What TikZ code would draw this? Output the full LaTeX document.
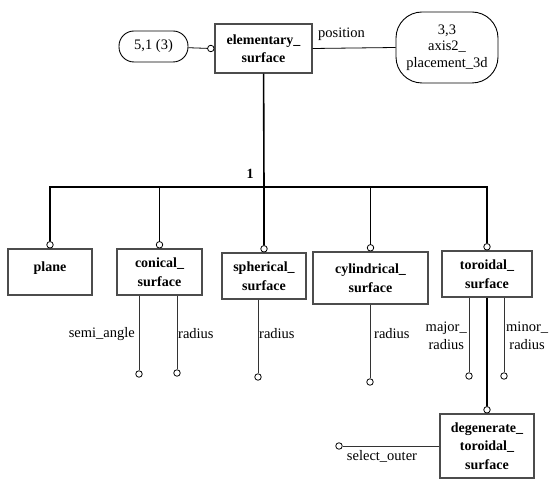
\documentclass[tikz,border=0pt]{standalone}
\usepackage{fontspec}
\setmainfont{Liberation Serif}
\usetikzlibrary{positioning}

\tikzset{
    entity/.style = {draw = black!70, line width = 1.1pt, align = center,
        font = \bfseries\fontsize{14}{18.5}\selectfont, inner sep = 2pt},
    refbox/.style = {draw, line width = 0.9pt, align = center,
        font = \fontsize{14.5}{16.5}\selectfont},
    endcirc/.style = {draw, circle, fill = white, line width = 0.8pt,
        inner sep = 0pt, minimum size = 6.5pt},
    tree/.style = {line width = 1.6pt},
    attr/.style = {line width = 0.8pt, black!80},
    lbl/.style = {font = \fontsize{14.5}{18}\selectfont, align = center, inner sep = 1pt},
}

\begin{document}
\begin{tikzpicture}[x = 1pt, y = -1pt]
    \useasboundingbox (0, 0) rectangle (555, 486);

    % supertype
    \node[entity, minimum width = 97pt, minimum height = 49pt] (elem) at (263.5, 48.5) {elementary\_\\surface};
    \node[refbox, rounded corners = 15pt, minimum width = 69pt, minimum height = 31pt] (ref51) at (153.5, 46.5) {5,1 (3)};
    \node[refbox, rounded corners = 26pt, minimum width = 102pt, minimum height = 71pt] (ref33) at (447, 47.5) {3,3\\axis2\_\\placement\_3d};
    \node[endcirc, anchor = east] (elem c) at (elem.west) {};

    \draw[attr, black] (ref51) -- (elem c);
    \draw[attr, black] (elem.east) -- (ref33.west) node[lbl, pos = 0.35, above = 6pt] (pos lbl) {position};

    % subtypes
    \node[entity, minimum width = 84pt, minimum height = 46pt, text depth = 10pt] (plane) at (50, 272) {plane};
    \node[entity, minimum width = 85pt, minimum height = 46pt] (conical) at (159.5, 272) {conical\_\\surface};
    \node[entity, minimum width = 84pt, minimum height = 46pt] (spherical) at (264, 276) {spherical\_\\surface};
    \node[entity, minimum width = 115pt, minimum height = 52pt] (cylindrical) at (370.5, 278) {cylindrical\_\\surface};
    \node[entity, minimum width = 90pt, minimum height = 46pt] (toroidal) at (487, 274) {toroidal\_\\surface};
    \node[entity, minimum width = 94pt, minimum height = 64pt] (degenerate) at (487, 446) {degenerate\_\\toroidal\_\\surface};

    \coordinate (bus) at (264, 187);
    \node[font = \bfseries\fontsize{14}{16}\selectfont] (one) at (250, 174) {1};
    \draw[tree] (elem) -- (bus);

    \foreach \n in {plane, conical, spherical, cylindrical, toroidal} {
        \node[endcirc, anchor = south] (\n c) at (\n.north) {};
        \draw[tree] (bus) -| (\n c);
    }

    \node[endcirc, anchor = south] (degenerate c) at (degenerate.north) {};
    \draw[tree] (toroidal.south -| degenerate c) -- (degenerate c);

    % attributes
    \node[endcirc] (semi) at (139, 374) {};
    \node[endcirc] (con rad) at (177, 373) {};
    \node[endcirc] (sph rad) at (258, 377) {};
    \node[endcirc] (cyl rad) at (370, 382) {};
    \node[endcirc] (major) at (469, 376) {};
    \node[endcirc] (minor) at (504, 376) {};
    \node[endcirc] (outer) at (339, 446) {};

    \draw[attr] (conical.south -| semi) -- (semi);
    \draw[attr] (conical.south -| con rad) -- (con rad);
    \draw[attr] (spherical.south -| sph rad) -- (sph rad);
    \draw[attr] (cylindrical.south -| cyl rad) -- (cyl rad);
    \draw[attr] (toroidal.south -| major) -- (major);
    \draw[attr] (toroidal.south -| minor) -- (minor);
    \draw[attr] (degenerate.west |- outer) -- (outer);

    \node[lbl, anchor = east] (semi lbl) at (136, 334) {semi\_angle};
    \node[lbl, anchor = west] (con lbl) at (177, 334) {radius};
    \node[lbl, anchor = west] (sph lbl) at (258, 334) {radius};
    \node[lbl, anchor = west] (cyl lbl) at (373, 334) {radius};
    \node[lbl, anchor = east] (major lbl) at (468, 336) {major\_\\radius};
    \node[lbl, anchor = west] (minor lbl) at (505, 336) {minor\_\\radius};
    \node[lbl] (outer lbl) at (382, 456) {select\_outer};
\end{tikzpicture}
\end{document}
